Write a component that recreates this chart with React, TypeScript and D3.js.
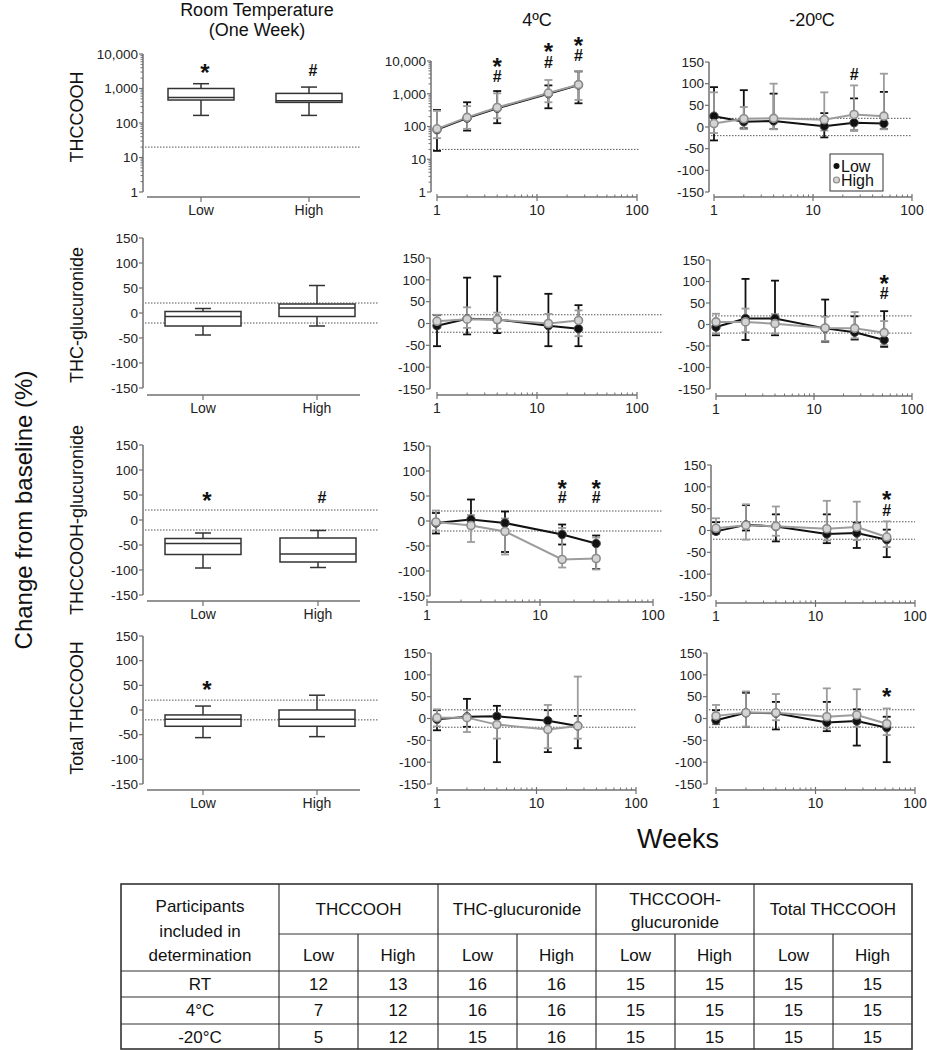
import React from 'react';
import * as d3 from 'd3';

const FONT = "'Liberation Sans', Arial, Helvetica, sans-serif";

// ---------------- Data ----------------
const groups = ['Low', 'High'];

// Room temperature (one week) box plots: [min, Q1, median, Q3, max]
const rtTHCCOOH = [[166, 464, 552, 1000, 1377], [166, 396, 443, 721, 1100]];
const rtTHCgluc = [[-44, -26, -7, 3, 9], [-26, -7, 10, 18, 55]];
const rtTHCCOOHgluc = [[-96, -69, -47, -37, -26], [-95, -84, -68, -36, -21]];
const rtTotal = [[-56, -33, -19, -10, 8], [-54, -33, -19, 0, 30]];

const weeks4C = [1, 2, 4, 13, 26];
const weeks4CGlucPlotted = [1.2, 2.45, 4.9, 15.7, 31.4];
const weeksM20 = [1, 2, 4, 13, 26, 52];

// 4ºC THCCOOH
const c4A_lowMean = [80, 180, 360, 1000, 1850];
const c4A_lowUp = [319, 550, 1210, 1800, 4800];
const c4A_lowDn = [18, 75, 126, 360, 510];
const c4A_highMean = [85, 190, 380, 1050, 1900];
const c4A_highUp = [300, 420, 1030, 2630, 4950];
const c4A_highDn = [44, 85, 178, 550, 645];
// -20ºC THCCOOH
const m20A_lowMean = [25, 12, 14, 2, 10, 8];
const m20A_lowUp = [92, 85, 77, 32, 66, 81];
const m20A_lowDn = [-31, -3, -5, -24, -8, -5];
const m20A_highMean = [8, 19, 20, 17, 29, 25];
const m20A_highUp = [80, 46, 100, 80, 96, 123];
const m20A_highDn = [-14, -5, -5, -8, -8, -5];
// 4ºC THC-glucuronide
const c4B_lowMean = [-5, 11, 9, -5, -12];
const c4B_lowUp = [19, 105, 108, 68, 42];
const c4B_lowDn = [-52, -25, -22, -52, -52];
const c4B_highMean = [5, 10, 9, 0, 7];
const c4B_highUp = [20, 37, 25, 22, 30];
const c4B_highDn = [-10, -10, -12, -5, -29];
// -20ºC THC-glucuronide
const m20B_lowMean = [-6, 14, 14, -9, -18, -36];
const m20B_lowUp = [10, 106, 102, 58, 19, 31];
const m20B_lowDn = [-25, -36, -25, -40, -35, -52];
const m20B_highMean = [6, 6, 2, -8, -9, -19];
const m20B_highUp = [25, 37, 24, 18, 29, 8];
const m20B_highDn = [-21, -18, -21, -38, -32, -48];
// 4ºC THCCOOH-glucuronide
const c4C_lowMean = [-4, 3, -4, -27, -45];
const c4C_lowUp = [16, 43, 19, -7, -29];
const c4C_lowDn = [-25, -5, -62, -47, -96];
const c4C_highMean = [-2, -9, -21, -77, -75];
const c4C_highUp = [21, 12, 5, -14, -33];
const c4C_highDn = [-19, -42, -67, -93, -97];
// -20ºC THCCOOH-glucuronide
const m20C_lowMean = [-2, 13, 9, -8, -6, -21];
const m20C_lowUp = [19, 58, 37, 37, 18, 2];
const m20C_lowDn = [-8, 0, -25, -29, -40, -61];
const m20C_highMean = [5, 12, 10, 4, 8, -15];
const m20C_highUp = [28, 60, 55, 68, 66, 21];
const m20C_highDn = [-8, -21, -12, -23, -22, -38];
// 4ºC Total THCCOOH
const c4D_lowMean = [-2, 4, 5, -5, -17];
const c4D_lowUp = [19, 45, 29, 19, 6];
const c4D_lowDn = [-27, -19, -100, -77, -68];
const c4D_highMean = [2, 2, -14, -25, -17];
const c4D_highUp = [21, 19, 10, 31, 96];
const c4D_highDn = [-18, -31, -46, -68, -46];
// -20ºC Total THCCOOH
const m20D_lowMean = [-4, 13, 12, -9, -6, -21];
const m20D_lowUp = [19, 59, 38, 38, 21, 4];
const m20D_lowDn = [-13, -19, -25, -29, -62, -100];
const m20D_highMean = [6, 13, 13, 4, 8, -12];
const m20D_highUp = [31, 62, 56, 69, 67, 23];
const m20D_highDn = [-12, -19, -4, -23, -19, -38];

// Table
const tableGroups = [['THCCOOH'], ['THC-glucuronide'], ['THCCOOH-', 'glucuronide'], ['Total THCCOOH']];
const tableConditions = ['RT', '4°C', '-20°C'];
const tableCounts = [
  [12, 13, 16, 16, 15, 15, 15, 15],
  [7, 12, 16, 16, 15, 15, 15, 15],
  [5, 12, 15, 16, 15, 15, 15, 15],
];

// ---------------- Layout ----------------
const AXIS = '#707070';
const LOWC = '#111111';
const HIGHC = '#9c9c9c';

const ser = (w, m, u, d) => w.map((x, i) => ({ x, m: m[i], u: u[i], d: d[i] }));

const boxPanels = [
  { data: rtTHCCOOH, log: true, axisX: 143, yTop: 54, yBottom: 192, xAxisY: 197, centers: [201, 309], bw: 66, refEnd: 360,
    annots: [{ c: 0, syms: [['*', 68]] }, { c: 1, syms: [['#', 70.5]] }] },
  { data: rtTHCgluc, log: false, axisX: 143, yTop: 238, yBottom: 388, xAxisY: 395, centers: [203, 317], bw: 76, refEnd: 378, annots: [] },
  { data: rtTHCCOOHgluc, log: false, axisX: 143, yTop: 445, yBottom: 595, xAxisY: 601, centers: [203, 318], bw: 76, refEnd: 378,
    annots: [{ c: 0, syms: [['*', 496]] }, { c: 1, syms: [['#', 497]] }] },
  { data: rtTotal, log: false, axisX: 143, yTop: 636, yBottom: 784, xAxisY: 790, centers: [203, 317], bw: 76, refEnd: 378,
    annots: [{ c: 0, syms: [['*', 685]] }] },
];

const linePanels = [
  { log: true, low: ser(weeks4C, c4A_lowMean, c4A_lowUp, c4A_lowDn), high: ser(weeks4C, c4A_highMean, c4A_highUp, c4A_highDn),
    axisX: 431, yTop: 61, yBottom: 192, x1: 437, x100: 637, xAxisY: 197, refEnd: 640,
    annots: [{ w: 4, syms: [['*', 62], ['#', 76]] }, { w: 13, syms: [['*', 47], ['#', 62]] }, { w: 26, syms: [['*', 41], ['#', 55]] }] },
  { log: false, low: ser(weeksM20, m20A_lowMean, m20A_lowUp, m20A_lowDn), high: ser(weeksM20, m20A_highMean, m20A_highUp, m20A_highDn),
    axisX: 709, yTop: 62, yBottom: 192, x1: 714, x100: 912, xAxisY: 197, refEnd: 912,
    annots: [{ w: 26, syms: [['#', 74]] }], legend: true },
  { log: false, low: ser(weeks4C, c4B_lowMean, c4B_lowUp, c4B_lowDn), high: ser(weeks4C, c4B_highMean, c4B_highUp, c4B_highDn),
    axisX: 430, yTop: 258, yBottom: 389, x1: 437, x100: 637, xAxisY: 395, refEnd: 663, annots: [] },
  { log: false, low: ser(weeksM20, m20B_lowMean, m20B_lowUp, m20B_lowDn), high: ser(weeksM20, m20B_highMean, m20B_highUp, m20B_highDn),
    axisX: 710, yTop: 260, yBottom: 389, x1: 716, x100: 912, xAxisY: 396, refEnd: 912,
    annots: [{ w: 52, syms: [['*', 279], ['#', 293]] }] },
  { log: false, low: ser(weeks4CGlucPlotted, c4C_lowMean, c4C_lowUp, c4C_lowDn), high: ser(weeks4CGlucPlotted, c4C_highMean, c4C_highUp, c4C_highDn),
    axisX: 430, yTop: 446, yBottom: 596, x1: 427, x100: 653, xAxisY: 602, refEnd: 663,
    annots: [{ w: 15.7, syms: [['*', 484], ['#', 497]] }, { w: 31.4, syms: [['*', 484], ['#', 497]] }] },
  { log: false, low: ser(weeksM20, m20C_lowMean, m20C_lowUp, m20C_lowDn), high: ser(weeksM20, m20C_highMean, m20C_highUp, m20C_highDn),
    axisX: 711, yTop: 465, yBottom: 596, x1: 716, x100: 915, xAxisY: 603, refEnd: 915,
    annots: [{ w: 52, syms: [['*', 495], ['#', 510]] }] },
  { log: false, low: ser(weeks4C, c4D_lowMean, c4D_lowUp, c4D_lowDn), high: ser(weeks4C, c4D_highMean, c4D_highUp, c4D_highDn),
    axisX: 431, yTop: 653, yBottom: 784, x1: 437, x100: 636, xAxisY: 790, refEnd: 637, annots: [] },
  { log: false, low: ser(weeksM20, m20D_lowMean, m20D_lowUp, m20D_lowDn), high: ser(weeksM20, m20D_highMean, m20D_highUp, m20D_highDn),
    axisX: 707, yTop: 653, yBottom: 784, x1: 716, x100: 915, xAxisY: 790, refEnd: 915,
    annots: [{ w: 52, syms: [['*', 692]] }] },
];

// ---------------- Helpers ----------------
// One text element per annotation stack ("*" above "#")
function Syms({ x, syms }) {
  const spans = syms.map(([s, cy]) =>
    s === '*'
      ? { s, y: cy + 0.56 * 24, fs: 24 }
      : { s, y: cy + 0.36 * 16, fs: 16 }
  );
  return (
    <text fontFamily={FONT} fontWeight="bold" textAnchor="middle" fill="#111">
      {spans.map((t, i) => (
        <tspan key={i} x={x} y={t.y} fontSize={t.fs}>{t.s}</tspan>
      ))}
    </text>
  );
}

function makeY(p) {
  return p.log
    ? d3.scaleLog().domain([1, 10000]).range([p.yBottom, p.yTop])
    : d3.scaleLinear().domain([-150, 150]).range([p.yBottom, p.yTop]);
}

function YAxis({ p, y }) {
  const major = p.log ? [1, 10, 100, 1000, 10000] : [-150, -100, -50, 0, 50, 100, 150];
  const minor = [];
  if (p.log) {
    [1, 10, 100, 1000].forEach((d) => { for (let k = 2; k <= 9; k++) minor.push(d * k); });
  }
  const fmt = d3.format(',');
  return (
    <g>
      <line x1={p.axisX} x2={p.axisX} y1={p.yTop} y2={p.yBottom} stroke={AXIS} strokeWidth={1.5} />
      {minor.map((v) => (
        <line key={'m' + v} x1={p.axisX - 2.5} x2={p.axisX} y1={y(v)} y2={y(v)} stroke={AXIS} strokeWidth={1} />
      ))}
      {major.map((v) => (
        <g key={v}>
          <line x1={p.axisX - 4} x2={p.axisX} y1={y(v)} y2={y(v)} stroke={AXIS} strokeWidth={1.2} />
          <text x={p.axisX - 5} y={y(v) + 4.8} fontSize={13.5} textAnchor="end" fontFamily={FONT} fill="#222">
            {p.log ? fmt(v) : String(v)}
          </text>
        </g>
      ))}
    </g>
  );
}

function RefLines({ p, y, x0 }) {
  const vals = p.log ? [20] : [20, -20];
  return (
    <g>
      {vals.map((v) => (
        <line key={v} x1={x0} x2={p.refEnd} y1={y(v)} y2={y(v)} stroke="#555" strokeWidth={1} strokeDasharray="1.5,1.5" />
      ))}
    </g>
  );
}

function BoxPanel({ p }) {
  const y = makeY(p);
  const x = d3.scaleOrdinal().domain(groups).range(p.centers);
  return (
    <g>
      <RefLines p={p} y={y} x0={p.axisX + 2} />
      <YAxis p={p} y={y} />
      <line x1={p.axisX + 4} x2={360} y1={p.xAxisY} y2={p.xAxisY} stroke={AXIS} strokeWidth={1.5} />
      {groups.map((g, i) => {
        const cx = x(g);
        const [mn, q1, md, q3, mx] = p.data[i];
        const hw = p.bw / 2;
        return (
          <g key={g}>
            <line x1={cx} x2={cx} y1={p.xAxisY} y2={p.xAxisY + 5} stroke={AXIS} strokeWidth={1.2} />
            <text x={cx} y={p.xAxisY + 18} fontSize={14} textAnchor="middle" fontFamily={FONT} fill="#222">{g}</text>
            <line x1={cx} x2={cx} y1={y(mn)} y2={y(mx)} stroke="#333" strokeWidth={1.5} />
            <line x1={cx - 8} x2={cx + 8} y1={y(mn)} y2={y(mn)} stroke="#333" strokeWidth={1.5} />
            <line x1={cx - 8} x2={cx + 8} y1={y(mx)} y2={y(mx)} stroke="#333" strokeWidth={1.5} />
            <rect x={cx - hw} y={y(q3)} width={p.bw} height={y(q1) - y(q3)} fill="#fff" stroke="#333" strokeWidth={1.5} />
            <line x1={cx - hw} x2={cx + hw} y1={y(md)} y2={y(md)} stroke="#333" strokeWidth={1.5} />
          </g>
        );
      })}
      {p.annots.map((a, i) => <Syms key={i} x={x(groups[a.c]) + 4} syms={a.syms} />)}
    </g>
  );
}

function ErrBars({ s, x, y, color }) {
  return (
    <g>
      {s.map((d, i) => (
        <g key={i}>
          <line x1={x(d.x)} x2={x(d.x)} y1={y(d.d)} y2={y(d.u)} stroke={color} strokeWidth={1.8} />
          <line x1={x(d.x) - 4} x2={x(d.x) + 4} y1={y(d.d)} y2={y(d.d)} stroke={color} strokeWidth={1.8} />
          <line x1={x(d.x) - 4} x2={x(d.x) + 4} y1={y(d.u)} y2={y(d.u)} stroke={color} strokeWidth={1.8} />
        </g>
      ))}
    </g>
  );
}

function LinePanel({ p }) {
  const y = makeY(p);
  const x = d3.scaleLog().domain([1, 100]).range([p.x1, p.x100]);
  const line = d3.line().x((d) => x(d.x)).y((d) => y(d.m));
  const minor = [];
  [1, 10].forEach((d) => { for (let k = 2; k <= 9; k++) minor.push(d * k); });
  return (
    <g>
      <RefLines p={p} y={y} x0={p.axisX + 2} />
      <YAxis p={p} y={y} />
      <line x1={x(1)} x2={x(100)} y1={p.xAxisY} y2={p.xAxisY} stroke={AXIS} strokeWidth={1.5} />
      {minor.map((v) => (
        <line key={v} x1={x(v)} x2={x(v)} y1={p.xAxisY - 2.5} y2={p.xAxisY} stroke={AXIS} strokeWidth={1} />
      ))}
      {[1, 10, 100].map((v) => (
        <g key={v}>
          <line x1={x(v)} x2={x(v)} y1={p.xAxisY - 3} y2={p.xAxisY + 4} stroke={AXIS} strokeWidth={1.2} />
          <text x={x(v)} y={p.xAxisY + 18} fontSize={14} textAnchor="middle" fontFamily={FONT} fill="#222">{v}</text>
        </g>
      ))}
      <ErrBars s={p.low} x={x} y={y} color={LOWC} />
      <ErrBars s={p.high} x={x} y={y} color={HIGHC} />
      <path d={line(p.low)} fill="none" stroke={LOWC} strokeWidth={2} />
      <path d={line(p.high)} fill="none" stroke={HIGHC} strokeWidth={2} />
      {p.low.map((d, i) => <circle key={'l' + i} cx={x(d.x)} cy={y(d.m)} r={4.2} fill={LOWC} stroke="#444" strokeWidth={1} />)}
      {p.high.map((d, i) => <circle key={'h' + i} cx={x(d.x)} cy={y(d.m)} r={4} fill="#d4d4d4" stroke="#8c8c8c" strokeWidth={1.6} />)}
      {p.annots.map((a, i) => <Syms key={i} x={x(a.w)} syms={a.syms} />)}
      {p.legend && (
        <g>
          <rect x={830} y={154} width={53} height={37} fill="#fff" stroke="#333" strokeWidth={1} />
          <circle cx={836.5} cy={166} r={3} fill={LOWC} />
          <text x={841} y={171.5} fontSize={16} fontFamily={FONT} fill="#111">Low</text>
          <circle cx={836.5} cy={180} r={3} fill="#d4d4d4" stroke="#8c8c8c" strokeWidth={1.2} />
          <text x={841} y={185.5} fontSize={16} fontFamily={FONT} fill="#111">High</text>
        </g>
      )}
    </g>
  );
}

function Table() {
  const cols = [121, 279, 358, 438, 517, 596, 675, 754, 833, 912];
  const rows = [884, 934, 971, 997, 1024, 1049];
  const st = '#333';
  const tf = { fontSize: 17, fontFamily: FONT, fill: '#111', textAnchor: 'middle' };
  return (
    <g>
      <rect x={cols[0]} y={rows[0]} width={cols[9] - cols[0]} height={rows[5] - rows[0]} fill="#fff" stroke={st} strokeWidth={1.6} />
      {[1, 3, 5, 7].map((i) => (
        <line key={'v' + i} x1={cols[i]} x2={cols[i]} y1={rows[0]} y2={rows[5]} stroke={st} strokeWidth={1.2} />
      ))}
      {[2, 4, 6, 8].map((i) => (
        <line key={'w' + i} x1={cols[i]} x2={cols[i]} y1={rows[1]} y2={rows[5]} stroke={st} strokeWidth={1.2} />
      ))}
      <line x1={cols[1]} x2={cols[9]} y1={rows[1]} y2={rows[1]} stroke={st} strokeWidth={1.2} />
      {[2, 3, 4].map((i) => (
        <line key={'h' + i} x1={cols[0]} x2={cols[9]} y1={rows[i]} y2={rows[i]} stroke={st} strokeWidth={1.2} />
      ))}
      <text x={(cols[0] + cols[1]) / 2} y={912} {...tf}>Participants</text>
      <text x={(cols[0] + cols[1]) / 2} y={937} {...tf}>included in</text>
      <text x={(cols[0] + cols[1]) / 2} y={961} {...tf}>determination</text>
      {tableGroups.map((g, gi) => {
        const cx = (cols[1 + gi * 2] + cols[3 + gi * 2]) / 2;
        return g.length === 1 ? (
          <text key={gi} x={cx} y={915} {...tf}>{g[0]}</text>
        ) : (
          <g key={gi}>
            <text x={cx} y={905} {...tf}>{g[0]}</text>
            <text x={cx} y={928} {...tf}>{g[1]}</text>
          </g>
        );
      })}
      {tableGroups.map((g, gi) =>
        groups.map((lab, li) => (
          <text key={gi + lab} x={(cols[1 + gi * 2 + li] + cols[2 + gi * 2 + li]) / 2} y={961} {...tf}>{lab}</text>
        ))
      )}
      {tableConditions.map((c, ri) => (
        <g key={c}>
          <text x={(cols[0] + cols[1]) / 2} y={rows[2 + ri] + 19} {...tf}>{c}</text>
          {tableCounts[ri].map((v, ci) => (
            <text key={ci} x={(cols[1 + ci] + cols[2 + ci]) / 2} y={rows[2 + ri] + 19} {...tf}>{v}</text>
          ))}
        </g>
      ))}
    </g>
  );
}

const rowLabels = [['THCCOOH', 117], ['THC-glucuronide', 315], ['THCCOOH-glucuronide', 520], ['Total THCCOOH', 708]];

export default function App() {
  return (
    <svg width={927} height={1050} style={{ position: 'absolute', left: 0, top: 0, background: '#fff' }} fontFamily={FONT}>
      <rect x={0} y={0} width={927} height={1050} fill="#fff" />
      <text x={257} y={16} fontSize={18} textAnchor="middle" fill="#111">Room Temperature</text>
      <text x={257} y={36} fontSize={18} textAnchor="middle" fill="#111">(One Week)</text>
      <text x={537} y={26} fontSize={18} textAnchor="middle" fill="#111">4ºC</text>
      <text x={812} y={26} fontSize={18} textAnchor="middle" fill="#111">-20ºC</text>
      {rowLabels.map(([t, cy]) => (
        <text key={t} transform={`translate(83,${cy}) rotate(-90)`} fontSize={18} textAnchor="middle" fill="#111">{t}</text>
      ))}
      <text transform="translate(32,510) rotate(-90)" fontSize={24} textAnchor="middle" fill="#111">Change from baseline (%)</text>
      <text x={678} y={848} fontSize={27} textAnchor="middle" fill="#111">Weeks</text>
      {boxPanels.map((p, i) => <BoxPanel key={i} p={p} />)}
      {linePanels.map((p, i) => <LinePanel key={i} p={p} />)}
      <Table />
    </svg>
  );
}
